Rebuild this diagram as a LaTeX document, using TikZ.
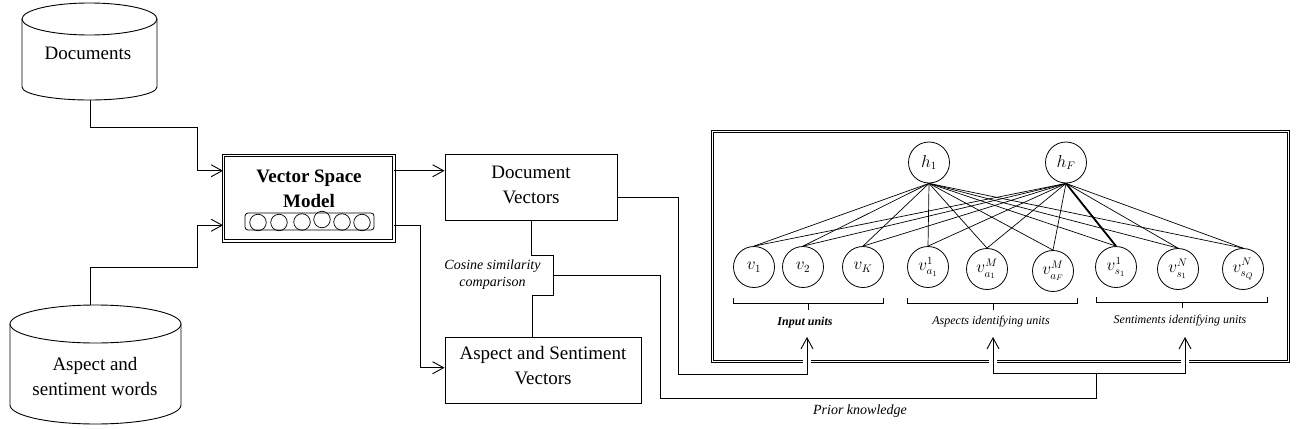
\documentclass[tikz,border=0pt]{standalone}
\usepackage{fontspec}
\setmainfont{Liberation Serif}
\usetikzlibrary{arrows.meta,calc}
\begin{document}
\begin{tikzpicture}[x=1pt,y=-1pt,line width=0.9pt,
  arr/.style={-{Straight Barb[length=11pt,width=12pt,line width=0.9pt]}},
  bigtxt/.style={font=\fontsize{19}{25}\selectfont,align=center,inner sep=0pt},
  smalltxt/.style={font=\fontsize{14}{17}\selectfont\itshape,align=center,inner sep=0pt},
  unittxt/.style={font=\fontsize{12}{14}\selectfont\itshape,inner sep=0pt},
  dbl/.style={draw,double,double distance=1.8pt,line width=0.9pt,inner sep=0pt},
  plainbox/.style={draw,line width=0.9pt,inner sep=0pt},
  neuron/.style={circle,draw,line width=0.8pt,minimum size=41pt,inner sep=0pt,font=\fontsize{16}{18}\selectfont},
  mini/.style={circle,draw,line width=0.7pt,minimum size=16.5pt,inner sep=0pt},
  wire/.style={line width=0.7pt},
  gap/.style={white,line width=8pt}]
\useasboundingbox (0,0) rectangle (1305,428);

% ---- Documents cylinder
\draw (89.5,19) ellipse[x radius=67.5pt,y radius=16pt];
\draw (22,19) -- (22,87) arc[start angle=180,end angle=360,x radius=67.5pt,y radius=13pt] -- (157,19);
\node[bigtxt] (docs) at (88,53) {Documents};
\coordinate (docsb) at (90.7,100);

% ---- Aspect and sentiment words cylinder
\draw (95.5,324) ellipse[x radius=85.5pt,y radius=19pt];
\draw (10,324) -- (10,405) arc[start angle=180,end angle=360,x radius=85.5pt,y radius=19pt] -- (181,324);
\node[bigtxt] (aspw) at (95,376) {Aspect and\\sentiment words};
\coordinate (aspt) at (90.7,305);

% ---- Vector Space Model
\node[dbl,minimum width=170.5pt,minimum height=85.5pt] (vsm) at (308.75,198.25) {};
\node[bigtxt,font=\fontsize{19}{25}\selectfont\bfseries] (vsmt) at (309,188.5) {Vector Space\\Model};
\node[draw,rounded corners=3pt,line width=0.8pt,minimum width=129pt,minimum height=17pt,inner sep=0pt] (vsmbar) at (309.5,221.5) {};
\foreach \i/\x/\y in {1/258/222.5,2/279/222.5,3/302/222,4/322/219.5,5/342/222,6/362/222.5}
  \node[mini] (m\i) at (\x,\y) {};

% ---- Document Vectors
\node[plainbox,minimum width=172pt,minimum height=66pt] (docv) at (531,187) {};
\node[bigtxt] (docvt) at (531,184.5) {Document\\Vectors};

% ---- Aspect and Sentiment Vectors
\node[plainbox,minimum width=196.7pt,minimum height=66pt] (asv) at (543.3,370.3) {};
\node[bigtxt] (asvt) at (543,366) {Aspect and Sentiment\\Vectors};

% ---- Cosine similarity
\node[smalltxt] (cos) at (492.5,274.5) {Cosine similarity\\comparison};
\coordinate (c1) at (531,255);
\coordinate (c2) at (553.3,255);
\coordinate (c3) at (553.3,295.7);
\coordinate (c4) at (532.7,295.7);
\coordinate (cr) at (553.3,275);
\draw (docv.south) -- (c1) -- (c2) -- (c3) -- (c4) -- (c4 |- asv.north);

% ---- connectors left part
\draw[arr] (docsb) |- (197,127.3) |- ([yshift=27.5pt]vsm.west);
\draw[arr] (aspt) |- (197,267.7) |- ([yshift=-27pt]vsm.west);
\draw[arr] ([yshift=27.5pt]vsm.east) -- ([yshift=27.5pt]vsm.east -| docv.west);
\coordinate (vdown) at (420,367.7);
\draw[arr] ([yshift=-27pt]vsm.east) -| (vdown) -- (vdown -| asv.west);

% ---- Network frame
\node[dbl,minimum width=576pt,minimum height=230pt] (frame) at (1000.5,246.5) {};

\node[neuron] (h1) at (929,162.5) {$h_1$};
\node[neuron] (hF) at (1066,162.5) {$h_F$};

\node[neuron] (v1)  at (754,267) {$v_1$};
\node[neuron] (v2)  at (803,267) {$v_2$};
\node[neuron] (vK)  at (863,267) {$v_K$};
\node[neuron] (va1) at (928,267) {$v^{1}_{a_1}$};
\node[neuron] (vaM) at (987,269) {$v^{M}_{a_1}$};
\node[neuron] (vaF) at (1053,271) {$v^{M}_{a_F}$};
\node[neuron] (vs1) at (1116,267) {$v^{1}_{s_1}$};
\node[neuron] (vsN) at (1178,269) {$v^{N}_{s_1}$};
\node[neuron] (vsQ) at (1243,269) {$v^{N}_{s_Q}$};

\foreach \t in {v1,v2,vK,va1,vaM,vaF,vs1,vsN,vsQ} {
  \draw[wire] (h1.south) -- (\t.north);
  \draw[wire] (hF.south) -- (\t.north);
}
\draw[line width=1.8pt] (hF.south) -- (vs1.north);

% ---- brackets
\draw[wire] (733,298) -- (733,303) -- (883,303) -- (883,298);
\draw[wire] (808,303) -- (808,310);
\draw[wire] (907,298) -- (907,303) -- (1077,303) -- (1077,298);
\draw[wire] (993,303) -- (993,310);
\draw[wire] (1096,297) -- (1096,302) -- (1267,302) -- (1267,297);
\draw[wire] (1182,302) -- (1182,308);

\node[unittxt,font=\fontsize{12}{14}\selectfont\bfseries\itshape] (lin) at (805,323) {Input units};
\node[unittxt] (lasp) at (991,322) {Aspects identifying units};
\node[unittxt] (lsen) at (1180,321) {Sentiments identifying units};

% ---- arrows into network
\draw[gap] (807,354) -- (807,368);
\draw[gap] (993,354) -- (993,368);
\draw[gap] (1185,354) -- (1185,368);

\coordinate (pin) at (807,337);
\coordinate (pasp) at (993,337);
\coordinate (psen) at (1185,337);
\coordinate (junc) at (1096,373);
\draw[arr] ([yshift=-10pt]docv.east) -| (678,374) -| (pin);
\draw (cr) -| (660,398) -| (junc);
\draw[arr] (junc) -| (pasp);
\draw[arr] (junc) -| (psen);

\node[smalltxt] (prior) at (860,411) {Prior knowledge};
\end{tikzpicture}
\end{document}
